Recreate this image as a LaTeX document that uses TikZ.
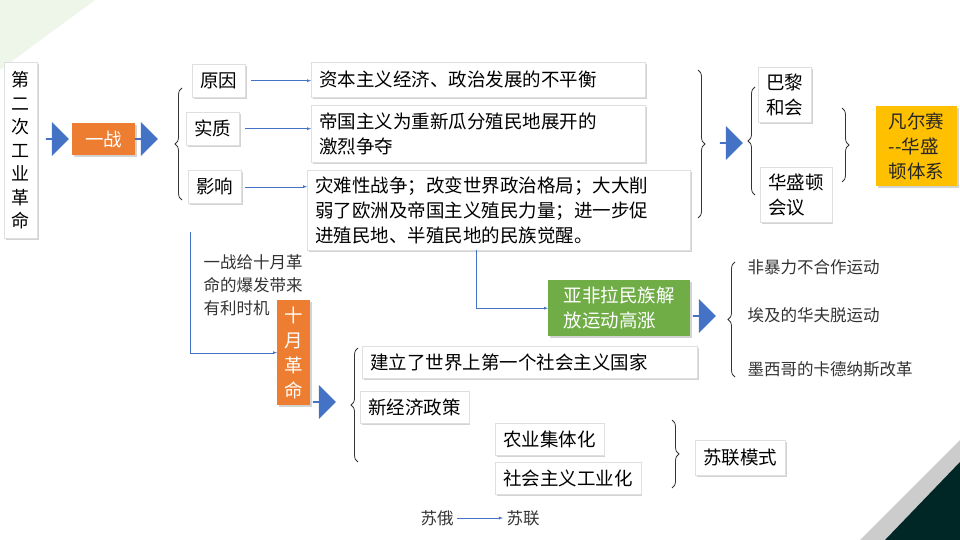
\documentclass[tikz,border=0pt]{standalone}
\usepackage{fontspec}
\setmainfont{Noto Sans CJK SC}
\usetikzlibrary{shapes.arrows,shadows,decorations.pathreplacing}
\definecolor{warblue}{HTML}{4472C4}
\definecolor{warorange}{HTML}{ED7D31}
\definecolor{wargreen}{HTML}{70AD47}
\definecolor{waryellow}{HTML}{FFC000}
\tikzset{
  box/.style={draw=gray!25, fill=white, drop shadow={shadow xshift=1.5pt,shadow yshift=-1.5pt,opacity=0.35}, inner xsep=8pt, inner ysep=6pt, font=\fontsize{18.5}{25}\selectfont, align=left, anchor=north west},
  hot/.style={box, draw=none, text=white},
  fat/.style={single arrow, fill=warblue, minimum height=23pt, minimum width=34pt, single arrow head extend=4pt, inner sep=0pt},
  link/.style={warblue, -latex},
  brace/.style={decorate, decoration={brace, amplitude=7pt}, thick, black!80},
  note/.style={font=\fontsize{16.5}{23}\selectfont, align=left, anchor=north west, text=black!80},
}
\begin{document}
\begin{tikzpicture}[x=1pt,y=-1pt]
\useasboundingbox (0,0) rectangle (960,540);
\fill[wargreen!12] (0,0) -- (95,0) -- (0,70) -- cycle;
\fill[gray!40] (960,440) -- (960,540) -- (860,540) -- cycle;
\fill[black!70!teal] (960,462) -- (960,540) -- (885,540) -- cycle;

% Nodes
\node[box, minimum width=33pt, minimum height=176pt, align=center, inner xsep=3pt, font=\fontsize{18}{23.5}\selectfont] (gy) at (4,62) {第\\二\\次\\工\\业\\革\\命};
\node[fat] (a1) at (57,139) {};
\node[hot, fill=warorange, minimum width=63pt, minimum height=32pt, align=center, inner ysep=2pt] (yz) at (72,123) {一战};
\node[fat] (a2) at (146,139) {};

\node[box, minimum height=33pt, inner ysep=2pt] (yy) at (192,64) {原因};
\node[box, minimum height=33pt, inner ysep=2pt] (sz) at (186,112) {实质};
\node[box, minimum height=33pt, inner ysep=2pt] (yx) at (188,170) {影响};
\node[box, text width=318pt, minimum height=35pt, inner ysep=2pt] (zb) at (311,62) {资本主义经济、政治发展的不平衡};
\node[box, text width=318pt, minimum height=57pt, inner ysep=3pt] (dg) at (311,105) {帝国主义为重新瓜分殖民地展开的\\激烈争夺};
\node[box, text width=367pt, minimum height=80pt, inner ysep=3pt] (zn) at (307,170) {灾难性战争；改变世界政治格局；大大削\\弱了欧洲及帝国主义殖民力量；进一步促\\进殖民地、半殖民地的民族觉醒。};

\node[fat] (a3) at (731,143) {};
\node[box, minimum height=55pt, inner ysep=3pt] (bl) at (758,67) {巴黎\\和会};
\node[box, minimum height=55pt, inner ysep=3pt] (hs) at (760,167) {华盛顿\\会议};
\node[hot, fill=waryellow, text=black!85, minimum width=81pt, minimum height=80pt, inner xsep=6pt, inner ysep=3pt] (fe) at (876,106) {凡尔赛\\-{}-华盛\\顿体系};

\node[note] (sy) at (200,251) {一战给十月革\\命的爆发带来\\有利时机};
\node[hot, fill=warorange, minimum width=33pt, minimum height=105pt, align=center, inner xsep=3pt, inner ysep=4pt] (sg) at (277,300) {十\\月\\革\\命};
\node[fat] (a4) at (324,402) {};
\node[box, text width=319pt, minimum height=32pt, inner ysep=2pt] (jl) at (362,346) {建立了世界上第一个社会主义国家};
\node[box, minimum height=32pt, inner ysep=2pt] (xj) at (360,391) {新经济政策};
\node[box, minimum height=32pt, inner ysep=2pt] (ny) at (495,423) {农业集体化};
\node[box, minimum height=32pt, inner ysep=2pt] (gy2) at (495,462) {社会主义工业化};
\node[box, minimum height=35pt, inner ysep=2pt] (sl) at (695,440) {苏联模式};

\node[hot, fill=wargreen, minimum width=142pt, minimum height=56pt, inner ysep=3pt] (yf) at (548,280) {亚非拉民族解\\放运动高涨};
\node[fat] (a5) at (704,316) {};
\node[note, anchor=west] (fb) at (744,267) {非暴力不合作运动};
\node[note, anchor=west] (aj) at (744,315) {埃及的华夫脱运动};
\node[note, anchor=west] (mx) at (744,369) {墨西哥的卡德纳斯改革};

\node[note, anchor=center] (se) at (437,518) {苏俄};
\node[note, anchor=center] (sn) at (523,518) {苏联};

% Connectors
\draw[link] (yy.east) ++(6,0) coordinate (c1) -- (c1 -| zb.west);
\draw[link] (sz.east) ++(6,0) coordinate (c2) -- (c2 -| dg.west);
\draw[link] (yx.east) ++(4,0) coordinate (c3) -- (c3 -| zn.west);
\draw[link] (190,232) coordinate (c4) |- (sg.west);
\draw[link] (476,250) coordinate (c5) |- (yf.west);
\draw[link] (se) -- (sn);

% Braces
\draw[brace] (182,200) -- (182,88);
\draw[brace] (698,70) -- (698,218);
\draw[brace] (755,195) -- (755,87);
\draw[brace] (842,108) -- (842,182);
\draw[brace] (358,462) -- (358,348);
\draw[brace] (672,420) -- (672,488);
\draw[brace] (735,377) -- (735,262);
\end{tikzpicture}
\end{document}
